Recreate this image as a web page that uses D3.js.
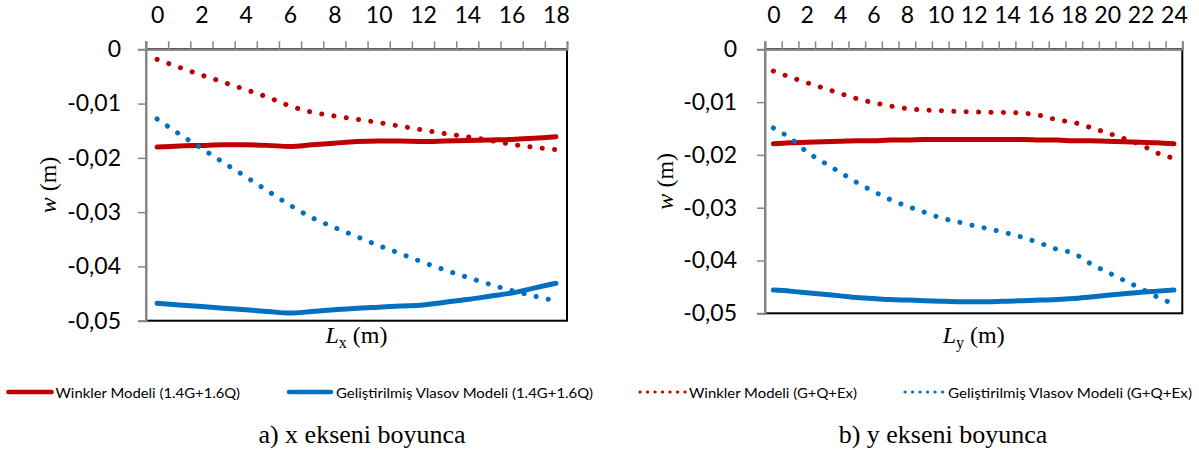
<!DOCTYPE html>
<html>
<head>
<meta charset="utf-8">
<script src="https://cdn.jsdelivr.net/npm/d3@7"></script>
<style>
  html, body { margin: 0; padding: 0; background: #fff; }
  svg { display: block; }
</style>
</head>
<body>
<svg id="chart" width="1199" height="450"></svg>
<script>
// ---------- DATA ----------
const catsX = d3.range(0, 19);          // 0..18 (m)
const catsY = d3.range(0, 25);          // 0..24 (m)
const xTickLabelsA = [0, 2, 4, 6, 8, 10, 12, 14, 16, 18];
const xTickLabelsB = [0, 2, 4, 6, 8, 10, 12, 14, 16, 18, 20, 22, 24];
const yTicks = [0, -0.01, -0.02, -0.03, -0.04, -0.05];
const yTickLabels = ["0", "-0,01", "-0,02", "-0,03", "-0,04", "-0,05"];

const seriesNames = [
  "Winkler Modeli (1.4G+1.6Q)",
  "Geliştirilmiş Vlasov Modeli (1.4G+1.6Q)",
  "Winkler Modeli (G+Q+Ex)",
  "Geliştirilmiş Vlasov Modeli (G+Q+Ex)"
];

// a) along x axis
const winklerULS_A = [-0.0180, -0.0178, -0.0177, -0.0176, -0.0176, -0.0177, -0.0179, -0.0176, -0.0173, -0.0170,
                      -0.0169, -0.0169, -0.0170, -0.0169, -0.0168, -0.0167, -0.0166, -0.0164, -0.0161];
const vlasovULS_A  = [-0.0468, -0.0471, -0.0474, -0.0477, -0.0480, -0.0483, -0.0486, -0.0483, -0.0480, -0.0477,
                      -0.0475, -0.0473, -0.0471, -0.0466, -0.0461, -0.0455, -0.0449, -0.0440, -0.0431];
const winklerEQ_A  = [-0.00184, -0.00332, -0.00473, -0.00608, -0.00744, -0.00884, -0.01044, -0.0116, -0.01228, -0.01289,
                      -0.0135, -0.01418, -0.01486, -0.01554, -0.0161, -0.01676, -0.0175, -0.01805, -0.01849];
const vlasovEQ_A   = [-0.01284, -0.0156, -0.01824, -0.02088, -0.02346, -0.0261, -0.02873, -0.03104, -0.03281, -0.03448,
                      -0.03615, -0.03767, -0.03923, -0.04068, -0.042, -0.04327, -0.04445, -0.04543, -0.04636];

// b) along y axis
const winklerULS_B = [-0.0179, -0.0177, -0.0176, -0.0175, -0.0174, -0.0173, -0.0173, -0.0172, -0.0172, -0.0171,
                      -0.0171, -0.0171, -0.0171, -0.0171, -0.0171, -0.0171, -0.0172, -0.0172, -0.0173, -0.0173,
                      -0.0174, -0.0175, -0.0176, -0.0177, -0.0179];
const vlasovULS_B  = [-0.0456, -0.0458, -0.0461, -0.0464, -0.0467, -0.0470, -0.0472, -0.0474, -0.0475, -0.0476,
                      -0.0477, -0.0478, -0.0478, -0.0478, -0.0477, -0.0476, -0.0475, -0.0474, -0.0472, -0.0469,
                      -0.0466, -0.0463, -0.0460, -0.0458, -0.0456];
const winklerEQ_B  = [-0.00411, -0.00525, -0.00632, -0.00733, -0.00837, -0.00935, -0.01011, -0.01074, -0.01121, -0.0115,
                      -0.01162, -0.01177, -0.01186, -0.01194, -0.01196, -0.0121, -0.01254, -0.01336, -0.01386, -0.01481,
                      -0.01583, -0.01689, -0.01806, -0.01964, -0.02065];
const vlasovEQ_B   = [-0.0149, -0.0168, -0.0194, -0.0214, -0.0233, -0.02523, -0.02693, -0.02845, -0.02971, -0.03081,
                      -0.03189, -0.03265, -0.0334, -0.03407, -0.03482, -0.03568, -0.03674, -0.03788, -0.03864, -0.0406,
                      -0.04218, -0.04375, -0.04527, -0.04691, -0.04824];

// ---------- STYLE ----------
const RED = "#C00000", BLUE = "#0070C0", GRAY = "#868686";
const styles = [
  {color: RED,  dotted: false},
  {color: BLUE, dotted: false},
  {color: RED,  dotted: true},
  {color: BLUE, dotted: true}
];
const TICK_FONT = 23;

const svg = d3.select("#chart");

function drawPanel(cfg) {
  const g = svg.append("g");
  const x = d3.scaleLinear().domain([-0.5, cfg.cats.length - 0.5]).range([cfg.left, cfg.right]);
  const y = d3.scaleLinear().domain([0, -0.05]).range([cfg.top, cfg.bottom]);

  // plot border (black)
  g.append("rect")
    .attr("x", cfg.left).attr("y", cfg.top)
    .attr("width", cfg.right - cfg.left).attr("height", cfg.bottom - cfg.top)
    .attr("fill", "none").attr("stroke", "#000").attr("stroke-width", 2);

  // top category axis: boundary ticks
  const bounds = d3.range(-0.5, cfg.cats.length, 1);
  const topAxis = d3.axisTop(x).tickValues(bounds).tickSize(8).tickFormat("");
  const ta = g.append("g").attr("transform", `translate(0,${cfg.top})`).call(topAxis);
  ta.select(".domain").attr("stroke", GRAY).attr("stroke-width", 2);
  ta.selectAll(".tick line").attr("stroke", GRAY).attr("stroke-width", 1.5);

  // top labels
  const labAxis = d3.axisTop(x).tickValues(cfg.xLabels).tickSize(0).tickPadding(26).tickFormat(d => String(d));
  const la = g.append("g").attr("transform", `translate(0,${cfg.top})`).call(labAxis);
  la.select(".domain").remove();
  la.selectAll("text").attr("font-family", "Lato, 'Open Sans', sans-serif")
    .attr("font-size", TICK_FONT).attr("fill", "#000").attr("dy", 0);

  // left value axis
  const leftAxis = d3.axisLeft(y).tickValues(yTicks).tickSize(8).tickPadding(cfg.yPad)
    .tickFormat((d, i) => yTickLabels[i]);
  const lax = g.append("g").attr("transform", `translate(${cfg.left},0)`).call(leftAxis);
  lax.select(".domain").attr("stroke", GRAY).attr("stroke-width", 2);
  lax.selectAll(".tick line").attr("stroke", GRAY).attr("stroke-width", 1.5);
  lax.selectAll("text").attr("font-family", "Lato, 'Open Sans', sans-serif")
    .attr("font-size", TICK_FONT).attr("fill", "#000");
  // extend left axis line up to top ticks
  g.append("line").attr("x1", cfg.left).attr("x2", cfg.left)
    .attr("y1", cfg.top - 8).attr("y2", cfg.bottom)
    .attr("stroke", GRAY).attr("stroke-width", 2);

  // series
  const line = d3.line().x((d, i) => x(cfg.cats[i])).y(d => y(d)).curve(d3.curveMonotoneX);
  cfg.series.forEach((vals, k) => {
    const s = styles[k];
    const p = g.append("path").datum(vals)
      .attr("d", line).attr("fill", "none").attr("stroke", s.color)
      .attr("stroke-linecap", "round").attr("stroke-linejoin", "round");
    if (s.dotted) {
      p.attr("stroke-width", 5).attr("stroke-dasharray", "0.1 12.3");
    } else {
      p.attr("stroke-width", 5);
    }
  });

  // axis titles
  const yt = g.append("text")
    .attr("transform", `translate(${cfg.yTitleX},${(cfg.top + cfg.bottom) / 2}) rotate(-90)`)
    .attr("text-anchor", "middle").attr("dominant-baseline", "central")
    .attr("font-family", "'Liberation Serif', 'Times New Roman', serif").attr("font-size", 24);
  yt.append("tspan").attr("font-style", "italic").text("w");
  yt.append("tspan").text(" (m)");

  const xt = g.append("text")
    .attr("x", (cfg.left + cfg.right) / 2).attr("y", 343)
    .attr("text-anchor", "middle")
    .attr("font-family", "'Liberation Serif', 'Times New Roman', serif").attr("font-size", 24);
  xt.append("tspan").attr("font-style", "italic").text("L");
  xt.append("tspan").attr("font-size", 16).attr("dy", 5).text(cfg.sub);
  xt.append("tspan").attr("dy", -5).text(" (m)");

  // caption
  g.append("text")
    .attr("x", cfg.capX).attr("y", 443).attr("text-anchor", "middle")
    .attr("font-family", "'Liberation Serif', 'Times New Roman', serif").attr("font-size", 26)
    .text(cfg.caption);
}

drawPanel({
  cats: catsX, xLabels: xTickLabelsA,
  left: 146, right: 567, top: 49.3, bottom: 320.7,
  yPad: 17, yTitleX: 48, sub: "x", capX: 362, caption: "a) x ekseni boyunca",
  series: [winklerULS_A, vlasovULS_A, winklerEQ_A, vlasovEQ_A]
});
drawPanel({
  cats: catsY, xLabels: xTickLabelsB,
  left: 765, right: 1182.3, top: 49.3, bottom: 313.3,
  yPad: 20, yTitleX: 665, sub: "y", capX: 943, caption: "b) y ekseni boyunca",
  series: [winklerULS_B, vlasovULS_B, winklerEQ_B, vlasovEQ_B]
});

// ---------- LEGEND ----------
const legendItems = [
  {x1: 8.4,  x2: 51.6,  tx: 55.5, tl: 184.5},
  {x1: 289,  x2: 331,   tx: 336,  tl: 257},
  {x1: 640,  x2: 686,   tx: 689,  tl: 168},
  {x1: 905,  x2: 945,   tx: 948,  tl: 244}
];
const legY = 392;
const lg = svg.append("g");
legendItems.forEach((it, k) => {
  const s = styles[k];
  const l = lg.append("line").attr("x1", it.x1).attr("x2", it.x2)
    .attr("y1", legY).attr("y2", legY).attr("stroke", s.color)
    .attr("stroke-linecap", "round");
  if (s.dotted) l.attr("stroke-width", 3.2).attr("stroke-dasharray", "0.1 7.4");
  else l.attr("stroke-width", 4.5);
  lg.append("text").attr("x", it.tx).attr("y", legY).attr("dominant-baseline", "central")
    .attr("font-family", "Lato, 'Open Sans', sans-serif").attr("font-size", 14)
    .attr("textLength", it.tl).attr("lengthAdjust", "spacingAndGlyphs")
    .text(seriesNames[k]);
});
</script>
</body>
</html>
